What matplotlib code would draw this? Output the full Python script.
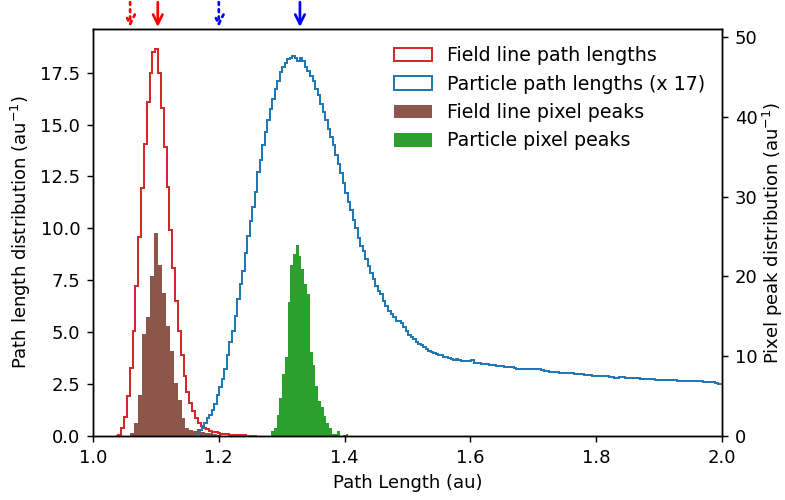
import numpy as np
import matplotlib
matplotlib.use("Agg")
import matplotlib.pyplot as plt

# ---------------- data ----------------
# Field line path lengths (density, left axis)
red_start = 1.036
red_width = 0.0045
red_vals = [0.02, 0.05, 0.37, 0.92, 1.93, 3.29, 5.07, 7.22, 9.58, 11.96, 14.08,
            16.08, 17.48, 18.47, 18.65, 17.5, 15.8, 13.9, 12.0, 9.9, 8.1, 6.5,
            5.07, 3.9, 2.9, 2.1, 1.6, 1.2, 0.88, 0.65, 0.5, 0.4, 0.32, 0.26,
            0.21, 0.17, 0.14, 0.12, 0.10, 0.08, 0.07, 0.06, 0.05, 0.04, 0.03,
            0.03, 0.02, 0.02, 0.01, 0.01]

# Particle path lengths x 17 (left axis)
blue_start = 1.165
blue_width = 0.004
blue_vals = [
    0.05, 0.29, 0.45, 0.61, 0.85, 1.0, 1.24, 1.56, 1.96, 2.36, 2.76, 3.24,
    3.88, 4.51, 5.07, 5.79, 6.59, 7.31, 7.94, 8.82, 9.62, 10.33, 11.05, 11.77,
    12.73, 13.29, 14.0, 14.64, 15.2, 15.76, 16.24, 16.71, 17.11, 17.51, 17.75,
    17.96, 18.15,
    18.2, 18.28, 18.18, 18.07, 18.2, 18.04, 17.75, 17.56, 17.35, 17.11, 16.71,
    16.4, 16.0, 15.6, 15.2, 14.8, 14.4, 14.0, 13.53, 13.1, 12.65, 12.17, 11.69,
    11.29, 10.9, 10.42, 10.02, 9.54, 9.14, 8.9, 8.5, 8.18, 7.86, 7.55, 7.22,
    6.99, 6.83, 6.51, 6.27, 6.03, 5.87, 5.71, 5.55,
    5.55, 5.42, 5.25, 5.05, 4.88, 4.78, 4.68, 4.52, 4.45, 4.38, 4.27, 4.18,
    4.10, 4.06, 3.99, 3.96, 3.92, 3.88, 3.82, 3.80, 3.76, 3.72, 3.64, 3.72,
    3.64, 3.63, 3.62, 3.61, 3.60, 3.64, 3.52, 3.51, 3.50, 3.49, 3.48, 3.46,
    3.44, 3.42, 3.40, 3.38, 3.36, 3.35, 3.33, 3.32, 3.32, 3.30, 3.29, 3.24,
    3.24, 3.23, 3.22, 3.22, 3.21, 3.21, 3.22, 3.25, 3.24, 3.16, 3.15, 3.12,
    3.10, 3.09, 3.08, 3.06, 3.05, 3.05, 3.04, 3.03, 3.02, 3.01, 3.00, 2.99,
    2.97, 2.97, 2.95, 2.93, 2.92, 2.91, 2.90, 2.89, 2.88, 2.87, 2.90, 2.89,
    2.85, 2.84, 2.81, 2.81, 2.83, 2.85, 2.81, 2.80, 2.80, 2.79, 2.78, 2.77,
    2.76, 2.75, 2.73, 2.73, 2.75, 2.74, 2.72, 2.71, 2.71, 2.71, 2.72, 2.70,
    2.69, 2.68, 2.68, 2.67, 2.66, 2.65, 2.66, 2.67, 2.66, 2.67, 2.64, 2.63,
    2.63, 2.62, 2.61, 2.60, 2.60, 2.58, 2.54, 2.52, 2.52, 2.51, 2.50]

# Field line pixel peaks (right axis)
brown_start = 1.0588
brown_width = 0.0063
brown_vals = [0.33, 1.59, 5.14, 12.8, 14.9, 20.0, 25.5, 21.4, 17.9, 13.8, 10.6,
              6.6, 4.5, 2.2, 0.96, 0.75, 0.66, 0.84, 0.54, 0.4, 0.33, 0.2,
              0.1, 0.05]

# Particle pixel peaks (right axis)
green_start = 1.283
green_width = 0.0044
green_vals = [0.63, 1.0, 2.63, 4.76, 7.77, 9.9, 16.8, 21.4, 22.8, 23.9, 22.6,
              20.9, 19.0, 17.8, 10.5, 8.9, 6.27, 4.39, 3.63, 2.5, 1.63, 1.0,
              0.25, 0.25, 0.63, 0.0, 0.1, 0.25]

# Marker arrows above the axes
arrow_x = [1.059, 1.103, 1.200, 1.329]
arrow_colors = ["red", "red", "blue", "blue"]
arrow_dotted = [True, False, True, False]

labels = ["Field line path lengths", "Particle path lengths (x 17)",
          "Field line pixel peaks", "Particle pixel peaks"]


def edges_of(start, width, vals):
    return start + width * np.arange(len(vals) + 1)


# ---------------- figure ----------------
DPI = 130
fig = plt.figure(figsize=(785 / DPI, 500 / DPI), dpi=DPI)
ax = fig.add_axes([93 / 785, 64 / 500, 629 / 785, 407 / 500])
ax2 = ax.twinx()
ax.set_zorder(ax2.get_zorder() + 1)
ax.patch.set_visible(False)

# bars on right axis
for start, width, vals, col, lab in [
        (brown_start, brown_width, brown_vals, "tab:brown", labels[2]),
        (green_start, green_width, green_vals, "tab:green", labels[3])]:
    e = edges_of(start, width, vals)
    c = 0.5 * (e[:-1] + e[1:])
    ax2.hist(c, bins=e, weights=vals, color=col, label=lab)

# step histograms on left axis
for start, width, vals, col, lab in [
        (red_start, red_width, red_vals, "tab:red", labels[0]),
        (blue_start, blue_width, blue_vals, "tab:blue", labels[1])]:
    e = edges_of(start, width, vals)
    c = 0.5 * (e[:-1] + e[1:])
    ax.hist(c, bins=e, weights=vals, histtype="step", color=col, label=lab,
            lw=1.1)

ax.set_xlim(1.0, 2.0)
ax.set_ylim(0, 19.6)
ax2.set_ylim(0, 51)

ax.set_xlabel("Path Length (au)")
ax.set_ylabel("Path length distribution (au$^{-1}$)")
ax2.set_ylabel("Pixel peak distribution (au$^{-1}$)", labelpad=2)

for x, col, dotted in zip(arrow_x, arrow_colors, arrow_dotted):
    ax.annotate("", xy=(x, 1.005), xycoords=("data", "axes fraction"),
                xytext=(x, 1.066), textcoords=("data", "axes fraction"),
                arrowprops=dict(arrowstyle="->", color=col, lw=1.5,
                                linestyle=":" if dotted else "-",
                                mutation_scale=13, shrinkA=0, shrinkB=0),
                annotation_clip=False)

h1, l1 = ax.get_legend_handles_labels()
h2, l2 = ax2.get_legend_handles_labels()
ax.legend(h1 + h2, l1 + l2, loc="upper right", frameon=False, fontsize=10.5)

fig.savefig("out.png", dpi=DPI)
